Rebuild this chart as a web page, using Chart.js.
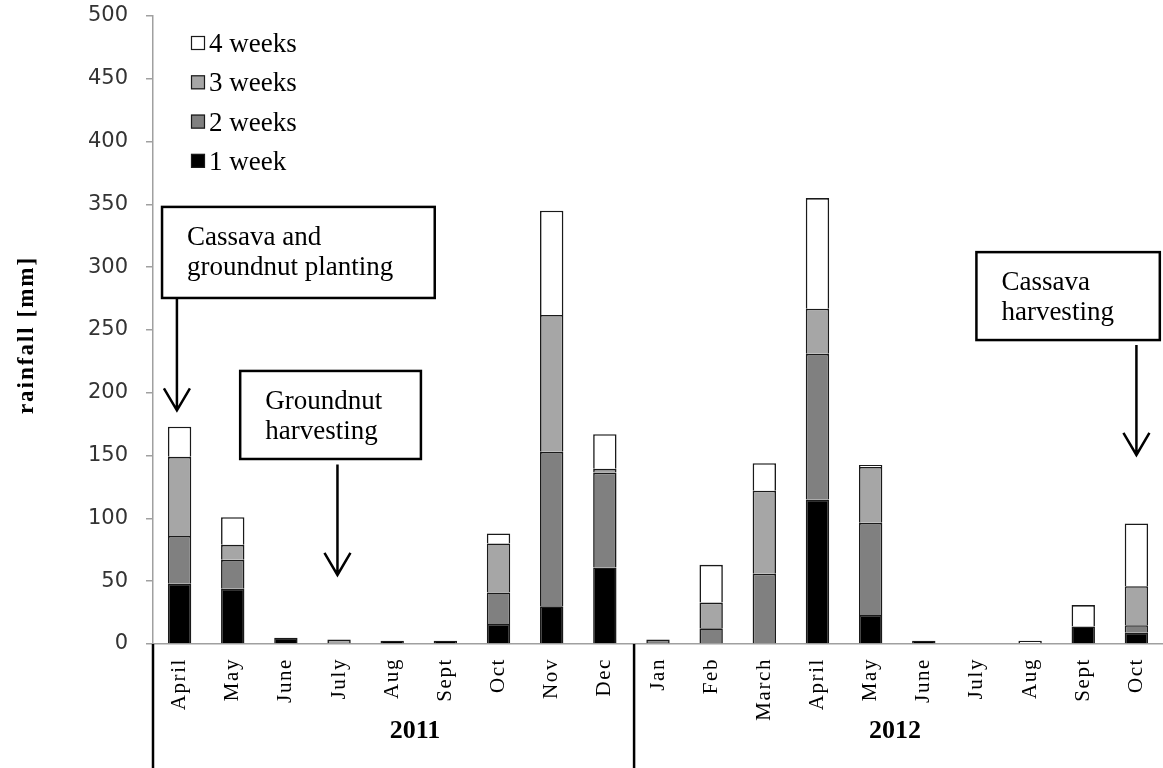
<!DOCTYPE html>
<html>
<head>
<meta charset="utf-8">
<script src="https://cdn.jsdelivr.net/npm/chart.js@4.4.0/dist/chart.umd.min.js"></script>
<style>
  html, body { margin: 0; padding: 0; background: #fff; }
  canvas { display: block; }
</style>
</head>
<body>
<canvas id="chart" width="1163" height="768"></canvas>
<script>
// months, April 2011 to October 2012
const months = ['April', 'May', 'June', 'July', 'Aug', 'Sept', 'Oct', 'Nov', 'Dec',
                'Jan', 'Feb', 'March', 'April', 'May', 'June', 'July', 'Aug', 'Sept', 'Oct'];
const years = ['2011', '2012'];

// rainfall per week of the month [mm]
const week1 = [48, 44, 5, 0, 2.5, 2.5, 16, 30, 61, 0, 0, 0, 115, 23, 2.5, 0, 0, 14, 9];
const week2 = [38, 23, 0, 0, 0, 0, 25, 123, 75.5, 3.5, 12.5, 56, 116, 73.5, 0, 0, 0, 0, 6];
const week3 = [63, 12, 0, 3.5, 0, 0, 39, 109, 3, 0, 20.5, 66, 36, 44.5, 0, 0, 0, 0, 31];
const week4 = [24, 22, 0, 0, 0, 0, 8, 83, 27.5, 0, 30, 22, 88, 1.5, 0, 0, 2.5, 17, 50];

const seriesLabels = ['1 week', '2 weeks', '3 weeks', '4 weeks'];
const seriesColours = ['#000000', '#808080', '#a6a6a6', '#ffffff'];

const yMax = 500;
const yStep = 50;

// where the year labels and the divider sit, in category units
const yearCentres = [4.43, 13.46];
const yearBreak = 8.55;

// notes: box corners and arrow in category / mm units
const notes = [
  { lines: ['Cassava and', 'groundnut planting'], x0: -0.33, x1: 4.80, y0: 348, y1: 275.5, ax: -0.05, aFrom: 275.5, aTo: 186 },
  { lines: ['Groundnut', 'harvesting'], x0: 1.14, x1: 4.54, y0: 217.4, y1: 147.3, ax: 2.97, aFrom: 143, aTo: 55 },
  { lines: ['Cassava', 'harvesting'], x0: 14.99, x1: 18.44, y0: 312, y1: 242, ax: 18.0, aFrom: 238, aTo: 150.5 }
];

const serif = '"Liberation Serif", "Times New Roman", serif';

const series = [week1, week2, week3, week4];
const datasets = series.map((vals, i) => ({
  label: seriesLabels[i],
  data: vals.map(v => v === 0 ? null : v),
  backgroundColor: seriesColours[i],
  borderColor: '#1a1a1a',
  borderWidth: 1.6,
  barPercentage: 0.44,
  categoryPercentage: 1.0
}));

const extras = {
  id: 'extras',
  // month labels are drawn after the bars (ticks.z = 1), spaced out a little
  afterDatasetsDraw(chart) {
    chart.ctx.letterSpacing = '1.6px';
  },
  afterDraw(chart) {
    const ctx = chart.ctx;
    const xs = chart.scales.x;
    const ys = chart.scales.y;
    const area = chart.chartArea;

    ctx.letterSpacing = '0px';
    ctx.save();

    // legend, top-left inside the plot, reversed order
    ctx.font = '27px ' + serif;
    ctx.textBaseline = 'alphabetic';
    ctx.textAlign = 'left';
    const ds = chart.data.datasets.slice().reverse();
    ds.forEach((d, i) => {
      const cy = area.top + 27 + i * 39.3;
      const bx = area.left + 38;
      ctx.fillStyle = d.backgroundColor;
      ctx.fillRect(bx, cy - 7, 14, 14);
      ctx.strokeStyle = '#1a1a1a';
      ctx.lineWidth = 1.2;
      ctx.strokeRect(bx + 0.5, cy - 6.5, 13, 13);
      ctx.fillStyle = '#000';
      ctx.fillText(d.label, bx + 18, cy + 9);
    });

    // notes with arrows
    notes.forEach(n => {
      const l = xs.getPixelForValue(n.x0);
      const r = xs.getPixelForValue(n.x1);
      const t = ys.getPixelForValue(n.y0);
      const b = ys.getPixelForValue(n.y1);
      ctx.fillStyle = '#fff';
      ctx.fillRect(l, t, r - l, b - t);
      ctx.strokeStyle = '#000';
      ctx.lineWidth = 2.5;
      ctx.strokeRect(l, t, r - l, b - t);
      ctx.fillStyle = '#000';
      ctx.font = '27px ' + serif;
      n.lines.forEach((line, k) => ctx.fillText(line, l + 25, t + 38 + k * 30));

      const ax = xs.getPixelForValue(n.ax);
      const a0 = ys.getPixelForValue(n.aFrom);
      const a1 = ys.getPixelForValue(n.aTo);
      ctx.lineWidth = 2.5;
      ctx.beginPath();
      ctx.moveTo(ax, a0);
      ctx.lineTo(ax, a1);
      ctx.moveTo(ax - 13, a1 - 22);
      ctx.lineTo(ax, a1);
      ctx.lineTo(ax + 13, a1 - 22);
      ctx.stroke();
    });

    // year dividers and labels under the axis
    ctx.strokeStyle = '#000';
    ctx.lineWidth = 2.5;
    [area.left, xs.getPixelForValue(yearBreak)].forEach(x => {
      ctx.beginPath();
      ctx.moveTo(x, area.bottom);
      ctx.lineTo(x, chart.height);
      ctx.stroke();
    });
    ctx.font = 'bold 26px ' + serif;
    ctx.textAlign = 'center';
    years.forEach((yr, i) => {
      ctx.fillText(yr, xs.getPixelForValue(yearCentres[i]), area.bottom + 94);
    });

    // y axis title
    ctx.translate(27, 335);
    ctx.rotate(-Math.PI / 2);
    ctx.font = 'bold 23px ' + serif;
    ctx.letterSpacing = '2px';
    ctx.textBaseline = 'middle';
    ctx.fillText('rainfall [mm]', 0, 0);

    ctx.restore();
  }
};

new Chart(document.getElementById('chart'), {
  type: 'bar',
  data: { labels: months, datasets: datasets },
  options: {
    responsive: false,
    animation: false,
    devicePixelRatio: 1,
    layout: { padding: { top: 16, right: 0, left: 0, bottom: 0 } },
    plugins: {
      legend: { display: false },
      tooltip: { enabled: false }
    },
    scales: {
      x: {
        stacked: true,
        grid: { drawOnChartArea: false, drawTicks: false },
        border: { display: true, color: '#a0a0a0', width: 1.5 },
        ticks: {
          z: 1,
          autoSkip: false,
          minRotation: 90,
          maxRotation: 90,
          padding: 14,
          color: '#000',
          font: { family: serif, size: 21 }
        },
        afterFit(scale) {
          scale.height = 124;
          scale.paddingLeft = 0;
          scale.paddingRight = 0;
        }
      },
      y: {
        stacked: true,
        min: 0,
        max: yMax,
        grid: { drawOnChartArea: false, drawTicks: true, tickLength: 7, color: '#a0a0a0', lineWidth: 1.5 },
        border: { display: true, color: '#a0a0a0', width: 1.5 },
        ticks: {
          stepSize: yStep,
          padding: 18,
          color: '#333',
          font: { family: '"DejaVu Sans", Verdana, sans-serif', size: 21 }
        },
        afterFit(scale) {
          scale.width = 153;
          scale.paddingTop = 0;
          scale.paddingBottom = 0;
        }
      }
    }
  },
  plugins: [extras]
});
</script>
</body>
</html>
